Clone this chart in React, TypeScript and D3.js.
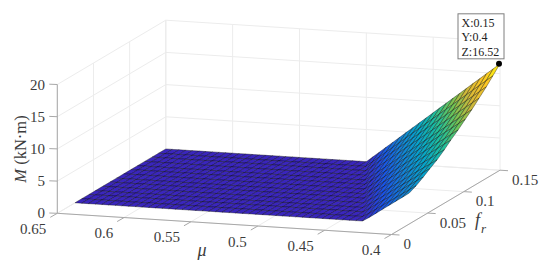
import React from "react";
import * as d3 from "d3";

const muTicks = [0.65, 0.6, 0.55, 0.5, 0.45, 0.4];
const frTicks = [0, 0.05, 0.1, 0.15];
const zTicks = [0, 5, 10, 15, 20];
const frGrid = [0.0245, 0.034, 0.044, 0.053, 0.063, 0.073, 0.082, 0.092, 0.102, 0.111, 0.121, 0.131, 0.14, 0.15];
const muGrid = [
  0.4, 0.405, 0.41, 0.415, 0.42, 0.425, 0.43, 0.435, 0.44, 0.445, 0.45, 0.455, 0.46, 0.465, 0.47, 0.475, 0.48,
  0.485, 0.49, 0.495, 0.5, 0.505, 0.51, 0.515, 0.52, 0.525, 0.53, 0.535, 0.54, 0.545, 0.55, 0.555, 0.56, 0.565,
  0.57, 0.575, 0.58, 0.585, 0.59, 0.595, 0.6, 0.605, 0.61, 0.615, 0.62, 0.625, 0.63, 0.635, 0.64, 0.645, 0.65,
];
// Non-zero moment values per f_r row, starting at mu = 0.4; the rest of each row is flat at 0.
const momentRows = [
  [4.8, 4.1, 3.41, 2.71, 2.02, 1.32, 0.62],
  [5.3, 4.63, 3.96, 3.29, 2.62, 1.94, 1.27, 0.6],
  [6, 5.33, 4.66, 3.99, 3.32, 2.64, 1.97, 1.3, 0.63],
  [6.7, 6.02, 5.34, 4.67, 3.99, 3.31, 2.63, 1.95, 1.28, 0.6],
  [7.4, 6.72, 6.04, 5.37, 4.69, 4.01, 3.33, 2.65, 1.98, 1.3, 0.62],
  [8.3, 7.61, 6.91, 6.22, 5.52, 4.83, 4.14, 3.44, 2.75, 2.05, 1.36, 0.67],
  [9.2, 8.49, 7.77, 7.06, 6.35, 5.63, 4.92, 4.21, 3.5, 2.78, 2.07, 1.36, 0.64],
  [10.1, 9.38, 8.65, 7.93, 7.2, 6.48, 5.75, 5.03, 4.3, 3.58, 2.85, 2.13, 1.4, 0.68],
  [11.1, 10.36, 9.62, 8.88, 8.14, 7.39, 6.65, 5.91, 5.17, 4.43, 3.69, 2.95, 2.21, 1.47, 0.73],
  [12, 11.25, 10.49, 9.74, 8.98, 8.23, 7.48, 6.72, 5.97, 5.21, 4.46, 3.71, 2.95, 2.2, 1.44, 0.69],
  [13.1, 12.33, 11.56, 10.79, 10.01, 9.24, 8.47, 7.7, 6.93, 6.16, 5.39, 4.62, 3.85, 3.08, 2.31, 1.54, 0.76],
  [14.2, 13.41, 12.62, 11.84, 11.05, 10.26, 9.47, 8.68, 7.9, 7.11, 6.32, 5.53, 4.74, 3.96, 3.17, 2.38, 1.59, 0.8],
  [15.3, 14.49, 13.69, 12.88, 12.07, 11.27, 10.46, 9.65, 8.84, 8.04, 7.23, 6.42, 5.62, 4.81, 4, 3.2, 2.39, 1.58, 0.77],
  [16.52, 15.69, 14.87, 14.04, 13.22, 12.39, 11.56, 10.74, 9.91, 9.09, 8.26, 7.43, 6.61, 5.78, 4.96, 4.13, 3.3, 2.48, 1.65, 0.83],
];
const tip = { x: 0.15, y: 0.4, z: 16.52 };
const parula = ["#3a26bd", "#1a55e8", "#1481d6", "#06a4ca", "#1fbf9c", "#6fc455", "#d8b838", "#fec822", "#f9fb0e"];

const muScale = d3.scaleLinear().domain([0.65, 0.4]).range([0, 1]);
const frScale = d3.scaleLinear().domain([0, 0.15]).range([0, 1]);
const zPx = d3.scaleLinear().domain([0, 20]).range([0, 128.8]);
const color = d3
  .scaleLinear<string>()
  .domain(parula.map((_, i) => (i / (parula.length - 1)) * 16.52))
  .range(parula)
  .interpolate(d3.interpolateRgb);

const origin = [57.3, 213.3];
const muVec = [334.2, 21.2];
const frVec = [108.5, -64.3];

function project(mu: number, fr: number, z: number): [number, number] {
  const s = muScale(mu);
  const t = frScale(fr);
  return [origin[0] + s * muVec[0] + t * frVec[0], origin[1] + s * muVec[1] + t * frVec[1] - zPx(z)];
}

const zAt = (row: number, col: number) => momentRows[row][col] ?? 0;
const seg = (a: [number, number], b: [number, number]) => `M${a[0]},${a[1]}L${b[0]},${b[1]}`;

const AXIS = "#a8a8a8";
const GRID = "#ececec";
const TEXT = "#3c3c3c";
const SERIF = "'Liberation Serif', serif";

export default function App() {
  const muEnds = d3.extent(muTicks) as [number, number];
  const frEnds = d3.extent(frTicks) as [number, number];
  const muHi = muEnds[1];
  const muLo = muEnds[0];
  const frHi = frEnds[1];
  const frLo = frEnds[0];
  const grid: string[] = [];
  zTicks.forEach((z) => {
    grid.push(seg(project(muHi, frLo, z), project(muHi, frHi, z)));
    grid.push(seg(project(muHi, frHi, z), project(muLo, frHi, z)));
  });
  muTicks.forEach((m) => {
    grid.push(seg(project(m, frLo, 0), project(m, frHi, 0)));
    grid.push(seg(project(m, frHi, 0), project(m, frHi, 20)));
  });
  frTicks.forEach((f) => {
    grid.push(seg(project(muHi, f, 0), project(muLo, f, 0)));
    grid.push(seg(project(muHi, f, 0), project(muHi, f, 20)));
  });

  const cells: { d: string; fill: string; key: string }[] = [];
  for (let r = frGrid.length - 2; r >= 0; r--) {
    for (let c = muGrid.length - 2; c >= 0; c--) {
      const zs = [zAt(r, c), zAt(r, c + 1), zAt(r + 1, c + 1), zAt(r + 1, c)];
      const pts = [
        project(muGrid[c], frGrid[r], zs[0]),
        project(muGrid[c + 1], frGrid[r], zs[1]),
        project(muGrid[c + 1], frGrid[r + 1], zs[2]),
        project(muGrid[c], frGrid[r + 1], zs[3]),
      ];
      cells.push({
        key: `${r}-${c}`,
        d: "M" + pts.map((p) => `${p[0].toFixed(2)},${p[1].toFixed(2)}`).join("L") + "Z",
        fill: color(d3.mean(zs) as number),
      });
    }
  }

  const tipPt = project(tip.y, tip.x, tip.z);
  const zBase = project(muHi, frLo, 0);
  const zTop = project(muHi, frLo, 20);
  const boxX = tipPt[0] - 42;
  const boxY = tipPt[1] - 50;

  return (
    <svg
      width={550}
      height={267}
      viewBox="0 0 550 267"
      style={{ position: "absolute", left: 0, top: 0, background: "#fff" }}
      fontFamily={SERIF}
    >
      <path d={grid.join("")} stroke={GRID} strokeWidth={1} fill="none" />
      <g stroke={AXIS} strokeWidth={1} fill="none">
        <path d={seg(project(muHi, frLo, 0), project(muLo, frLo, 0))} />
        <path d={seg(project(muLo, frLo, 0), project(muLo, frHi, 0))} />
        <path d={seg(zBase, zTop)} />
        {muTicks.map((m) => {
          const p = project(m, frLo, 0);
          return <path key={m} d={seg(p, [p[0] - 7, p[1] + 4])} />;
        })}
        {frTicks.map((f) => {
          const p = project(muLo, f, 0);
          return <path key={f} d={seg(p, [p[0] + 8, p[1] + 0.5])} />;
        })}
        {zTicks.map((z) => {
          const p = project(muHi, frLo, z);
          return <path key={z} d={seg(p, [p[0] - 8, p[1] - 0.3])} />;
        })}
      </g>
      <g>
        {cells.map((c) => (
          <path key={c.key} d={c.d} fill={c.fill} stroke="#000" strokeOpacity={0.7} strokeWidth={0.5} />
        ))}
      </g>
      <g fill={TEXT} fontSize={15}>
        {muTicks.map((m) => {
          const p = project(m, frLo, 0);
          return (
            <text key={m} x={p[0] - 11} y={p[1] + 20.5} textAnchor="end">
              {m}
            </text>
          );
        })}
        {frTicks.map((f) => {
          const p = project(muLo, f, 0);
          return (
            <text key={f} x={p[0] + 12} y={p[1] + 14.5}>
              {f}
            </text>
          );
        })}
        {zTicks.map((z) => {
          const p = project(muHi, frLo, z);
          return (
            <text key={z} x={45} y={p[1] + 5} textAnchor="end">
              {z}
            </text>
          );
        })}
      </g>
      <g fill={TEXT}>
        <text x={202} y={256} fontSize={18} fontStyle="italic" textAnchor="middle">
          μ
        </text>
        <text x={475} y={226} fontSize={18} fontStyle="italic">
          f
        </text>
        <text x={481} y={233} fontSize={13} fontStyle="italic">
          r
        </text>
        <text transform="translate(26,149) rotate(-90)" fontSize={16.5} textAnchor="middle">
          <tspan fontStyle="italic">M</tspan> (kN·m)
        </text>
      </g>
      <circle cx={tipPt[0] - 1} cy={tipPt[1]} r={3} fill="#000" />
      <rect x={boxX} y={boxY} width={46} height={45} fill="#fff" stroke="#7f7f7f" strokeWidth={1} />
      <g fontSize={12} fill="#222">
        <text x={boxX + 3.5} y={boxY + 13.5}>{`X:${tip.x}`}</text>
        <text x={boxX + 3.5} y={boxY + 27.5}>{`Y:${tip.y}`}</text>
        <text x={boxX + 3.5} y={boxY + 42}>{`Z:${tip.z}`}</text>
      </g>
    </svg>
  );
}
